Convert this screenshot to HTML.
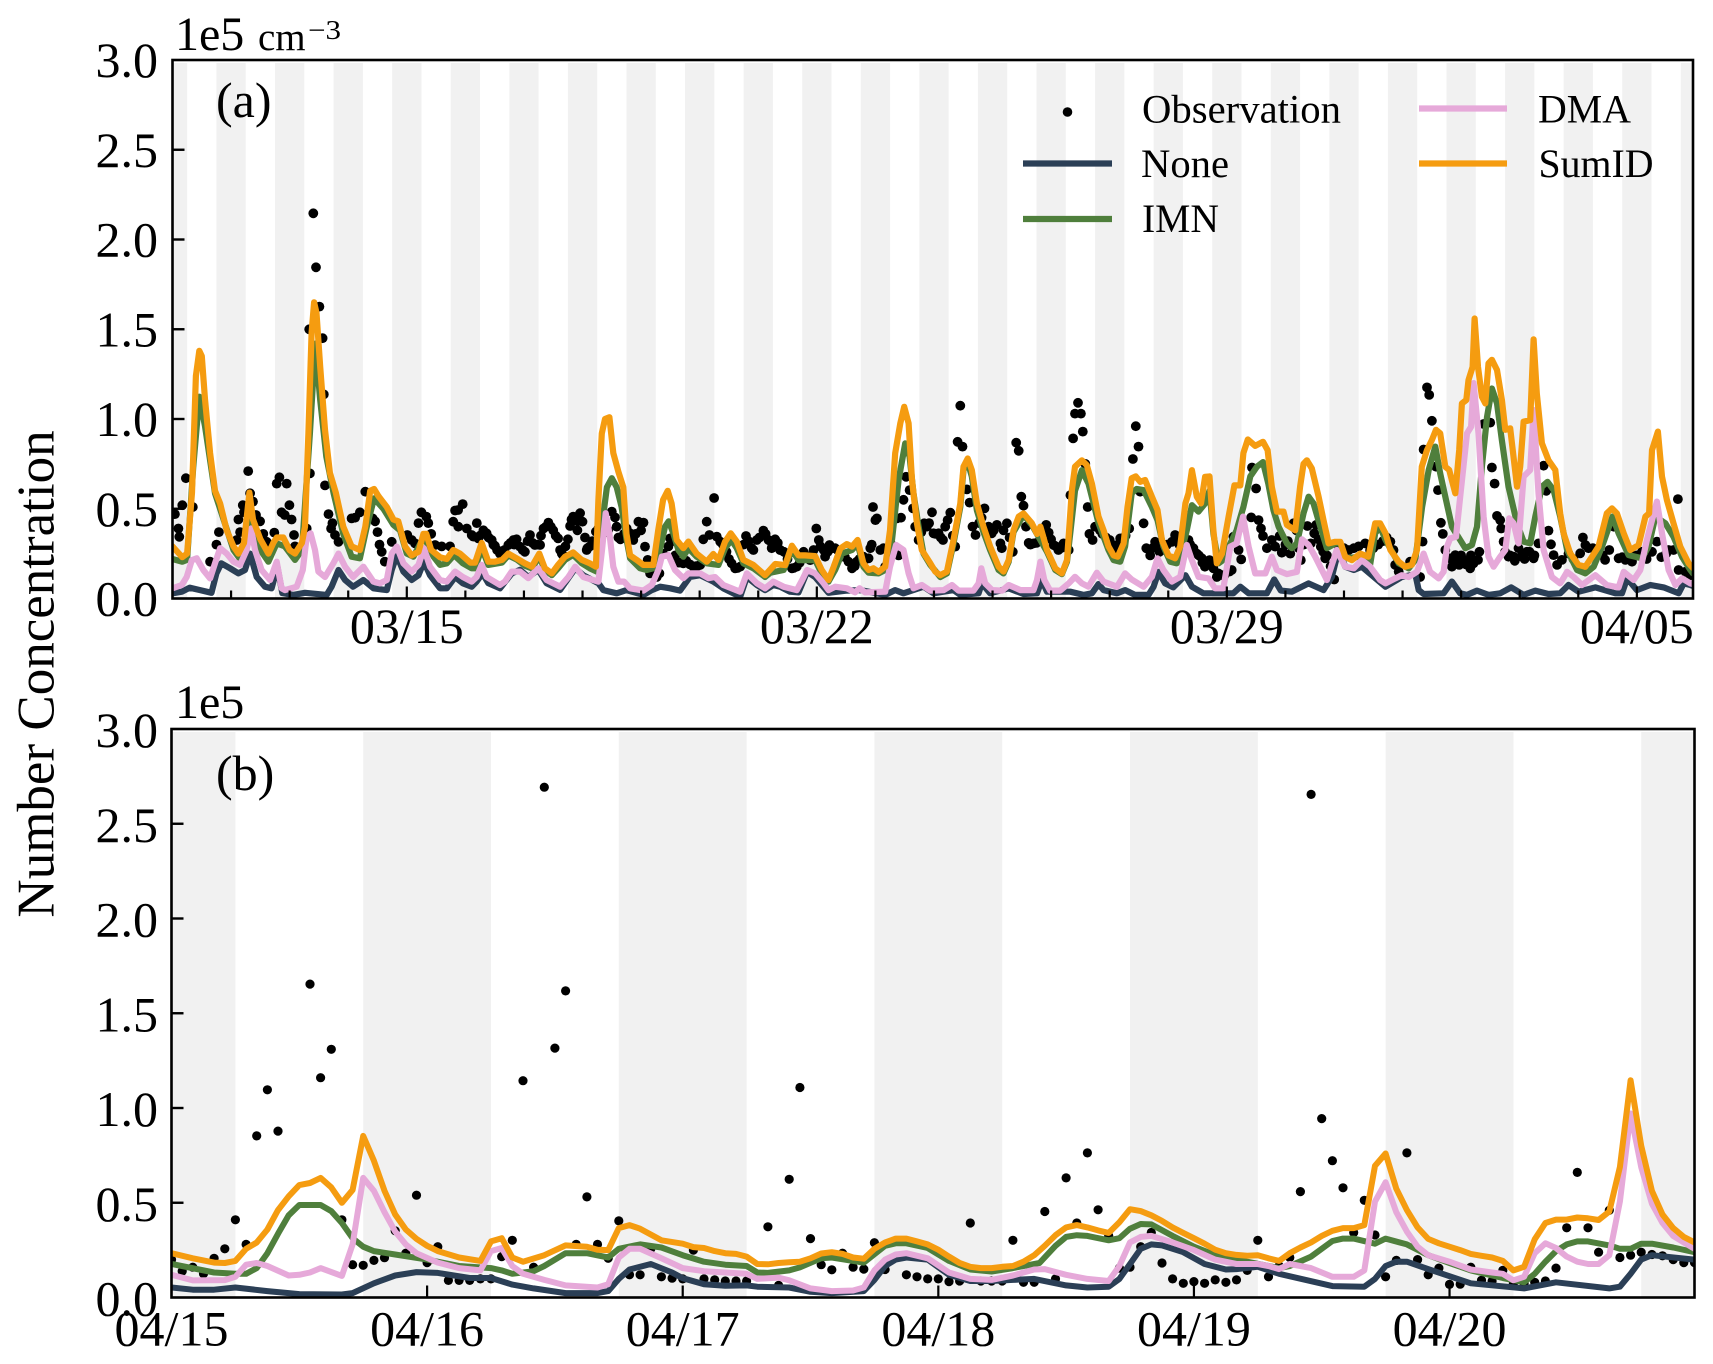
<!DOCTYPE html>
<html>
<head>
<meta charset="utf-8">
<title>Number Concentration</title>
<style>
html,body{margin:0;padding:0;background:#fff;}
svg{display:block;}
text{font-family:"Liberation Serif","Times New Roman",serif;fill:#000;}
</style>
</head>
<body>
<svg id="chart" xmlns="http://www.w3.org/2000/svg" width="1713" height="1364" viewBox="0 0 1713 1364">
<defs>
<clipPath id="clip-a"><rect x="172.5" y="60" width="1520.5" height="538.5"/></clipPath>
<clipPath id="clip-b"><rect x="171.5" y="729" width="1523" height="568.5"/></clipPath>
</defs>
<g id="panel-a"></g>
<g id="panel-b"></g>
<text transform="translate(53.5,674) rotate(-90)" text-anchor="middle" font-size="53">Number Concentration</text>
<text x="216" y="117" font-size="50">(a)</text>
<text x="216" y="790" font-size="50">(b)</text>
<text x="175" y="50" font-size="48">1e5</text>
<text x="258" y="50" font-size="39">cm</text>
<text x="308" y="39" font-size="27" textLength="33" lengthAdjust="spacingAndGlyphs">−3</text>
<text x="175" y="718" font-size="48">1e5</text>
<g>
<circle cx="1067.5" cy="112" r="4.8" fill="#000"/>
<text x="1142" y="122.5" font-size="40" textLength="199" lengthAdjust="spacingAndGlyphs">Observation</text>
<line x1="1023" x2="1112" y1="163.5" y2="163.5" stroke="#2b3f56" stroke-width="6.2"/>
<text x="1141" y="177" font-size="40" textLength="88" lengthAdjust="spacingAndGlyphs">None</text>
<line x1="1023" x2="1112" y1="219" y2="219" stroke="#4f7f3c" stroke-width="6.2"/>
<text x="1142" y="232" font-size="40" textLength="77" lengthAdjust="spacingAndGlyphs">IMN</text>
<line x1="1419" x2="1507" y1="108.5" y2="108.5" stroke="#e6a9d9" stroke-width="6.2"/>
<text x="1538" y="122.5" font-size="40" textLength="93" lengthAdjust="spacingAndGlyphs">DMA</text>
<line x1="1419" x2="1507" y1="163.5" y2="163.5" stroke="#f59c10" stroke-width="6.2"/>
<text x="1538.5" y="177" font-size="40" textLength="115" lengthAdjust="spacingAndGlyphs">SumID</text>
</g>
</svg>
<script>
// Values in units of 10^3 cm-3; hours since the panel's first timestamp.
// ---- Panel (a): 03/11 00:00 onward ----
const aSumHours=[0,4,6,8,9.6,11,12,13.3,15.4,17.4,19.5,22.2,25,27,29.3,31.5,33,36,39.3,41.3,42.7,45.4,48,50.2,53,54.3,55.7,57,58,59,60.5,62.5,64.5,66.9,70,73.4,76.8,79,81,82.6,84.4,87.8,90.5,92.5,95.3,98,100.8,102.8,104,106,109.6,112.4,115,117.8,122,124,126.7,129.4,132,135,137.6,141,144.4,147.2,150.3,152.6,155.4,158,160.8,164.2,167.7,171,173.5,174.5,175.9,177.2,179,180.6,182.7,184.7,186,187.5,190.2,192.9,197,199,201,202.9,204.5,206.6,209.3,211.4,214.8,218.9,221.6,223.7,226.4,228.7,231.2,233.9,238,242.8,247,251,253.8,256.5,259.2,263.3,266,268.8,270.9,273.6,276.3,278.4,280.7,283.1,285.2,287.2,289.3,292,294,296.1,298.2,299.8,301.6,303,305,307,310.5,312.5,314.6,317.3,320,322.8,324.1,325.8,327.5,329.6,332.3,335,338.5,340.5,342.6,344.6,346.7,348.7,352.1,354.2,355.6,358.3,361.7,364.4,366.5,368.5,369.8,372.6,374.6,376.7,379.4,381.5,383.5,385.6,387.3,389.7,391.3,393,394.7,396.5,398.5,401.3,403.6,405.4,408.1,410.8,412.9,415,416.3,417.7,419.7,421.4,423.1,424.9,426.5,427.9,430,432.7,435.1,437.5,438.8,440.6,443.6,446.8,448.7,450.4,452.5,455.2,456.6,460,462,463.4,464.8,466.8,469.6,471.6,473.7,476.4,478.5,480.5,483.2,486.7,490,492.8,494.8,497,499,502.4,505,507.8,509.9,511.9,514,516,517.7,519.4,521.5,523.1,525.6,527.2,528.3,530.1,531,532.7,533.5,534.9,536.5,537.9,539.2,540.6,542.7,544.7,546.1,548.1,550.9,552.2,553.6,556.3,557.7,559,561.1,563.8,566.6,568.6,570,572.7,576.1,578.9,581.6,584.3,587.7,589.8,591.8,594.6,597.3,600.7,603.5,605,606.2,608.6,610.3,612.3,615,617.8,621.2,623];
const aSumVals=[29,23,25,59,124,138,135,111,81,60,53,38,29,25,31,59,44,33,25,31,34,34,27,25,31,40,92,148,165,159,129,94,70,59,40,29,27,40,60,61,57,51,44,43,29,24,26,36,36,27,23,22,27,25,20,20,31,20.5,20.5,21.5,25,22.4,19.6,17.7,25,16.8,14,18.7,23.3,25.7,21.5,19.6,17.7,55,92,100,101,81,70.6,62,36,24,21.5,18.7,18.7,38,55,60,53,32.6,28,31.7,25,20.5,24.8,21.5,31.7,36.3,31.7,21.5,18.7,13,19.2,18.6,29.4,24,24,23.6,15.9,10.3,17.7,27.9,30.3,28.9,32.6,19.6,15.9,16.8,14.9,17.7,38,81,97.6,106.8,97.6,66,42,27,19.6,15,13,15,32.6,53,73.4,78,71.6,53,40,29,17.7,15,21.4,38,45.6,47.4,42,36,40,27,16.8,14,21.4,60.4,73.4,77,74.3,64,45.6,38,29,24,23.3,30.7,51,67,68,65,66,56.7,49.3,32.6,24,22.4,29,53,58.6,71.5,56.7,53,67.8,68,38,19.6,25,45.6,63,63,81,88.6,85,87.3,82.7,62.3,48.4,48.4,41,38,62.3,75,77,72.5,56.7,43.7,30.7,31.6,31.6,23.3,21.4,25,23.3,41.9,41.9,36.3,27,20.5,17.7,18.7,27,73.4,82.7,88.3,94,92,73.4,71.6,58.6,82.7,108.7,110.6,121.7,129,156,129,112.4,108.7,131,133,127.3,110.6,94,94.8,62.3,73.4,98.5,99.4,144.4,114.3,86.5,77,71.6,47.4,36.3,25.2,18.7,17.7,23.3,28.9,47.4,50.2,47.4,36.3,27,29.8,45.6,47.4,82.7,93,67.9,54.9,41.9,28.9,19.6,17];
const aImnHours=[0,4,6,8.5,11,13.3,17.4,21,25,27.7,29.7,31.5,33,36,39.3,42.7,46,50.2,53,56.3,58.5,60.5,63,66,70,73.4,76.8,79.6,82.6,86.4,90.5,93.2,96,98.7,103,107,109.6,112.4,115.4,119,122.6,124,126.7,129.4,135,137.6,141,144.4,147.2,150.3,152.6,155.4,158,160.8,164.2,167.7,171,173.8,175.9,178,180,182,184,186,187.5,191.6,194.3,197,199.1,201.8,203.3,205.2,207.3,209.3,211.4,214.8,218.9,223.7,226.4,229,231.2,233.9,238,242.8,245,250.4,253.8,256.5,263.3,266,268.8,271.5,274.3,278.4,280.7,283.1,285.2,289.3,292,294.8,297.5,300.2,302,303.6,305.7,307.7,310.5,314.6,317.3,320,322.8,324.1,325.8,327.5,329.6,332.3,335,338.5,340.5,342.6,344.6,348.7,352.1,358.3,361.7,364.4,366.5,368,369.8,372.6,375.3,379.4,383.5,385.6,388.3,390.3,393,395,397.9,401.3,403.6,406,408.8,411.5,413.6,415.6,417.7,420.4,423.1,424.9,426.5,428.6,430,433.4,436,438.8,441.6,444.3,446.8,449,451.1,453.2,456.6,458.6,460.7,463.4,465.5,467.5,470.3,473,476.4,478.5,480.5,486.7,490.7,492.8,494.8,497,502.4,506.5,509.2,512,514.7,517.4,519.4,521.5,524.2,527.6,529.7,532.4,534.5,536.5,538.6,540.6,542.7,544.7,547.4,550.9,553.6,556.3,558.4,561.1,563.4,565.9,568.6,571.4,575.5,578.9,582.3,585.7,590,592.5,596.6,602.1,604.8,607.6,611.7,615,618.5,621.9,623];
const aImnVals=[22,20.5,21.5,73,112.4,96,58.6,43.7,27,22,27,55,42,27,20.5,30.7,29,21.5,27,92,142,110.6,79,58.6,36,23.3,22.4,40,55.8,50,41,38,25,23.3,34.4,23.3,18.7,19.6,24.2,19.6,16.8,16.8,28,18.7,20,24,21.8,18.3,16.8,23.3,15.9,13,16.8,21.5,24.3,19.6,16.8,15,40,62,67,62,51,33,22.4,16.8,15.9,16.8,23.3,40,43,36.3,27,23.3,28,23.3,19.6,18.7,28,32.6,28,19.6,16.8,12,14.4,15.9,27,21.4,21.4,14,9.4,15.9,25,27,30.7,17.7,14.4,14,15.9,32.6,66,86.4,79,58.6,40,25,18.7,12,14,30.7,51,71.6,76,68,49,37,27,15.9,14,20.5,37,46.5,41,26,15.9,13.6,20.5,38,60,71.5,64,42,27,21.4,20.5,29,58.6,61,60.4,51,43.7,29,20.5,19.6,27,38,52,48.4,53,60,36,19.6,21,30.7,38,51,68,73.4,76,64,49,40,30.7,28,30.7,47.4,56.7,53,40,28,30.7,30.7,22.4,23.3,18.7,36.3,40,32.6,19.6,16.8,21.5,51,71.6,84.6,69.7,56.7,40,32.6,28,29.8,40,73.4,101,117,108.7,88,62.3,41.9,31.7,30.7,45.6,62.3,65,60.4,45.6,27,15.9,14,17.7,28.9,45.6,36.3,24.2,22.4,29,45.6,41.9,34.4,23.3,15.9,14];
const aDmaHours=[0,3.8,5.8,7.9,9.9,12.6,15.4,17.4,19.5,22.2,25,27.7,30.4,32.2,33.8,36.5,40,42.7,44.7,46,50.9,53.4,55,56.6,58.4,59.8,62.5,65.9,68,70.7,74,78.2,82.3,85,87.8,89.8,91.9,94.6,98,100.8,103,105.5,109.6,112.4,115.8,119,122.6,124.6,126.7,128.7,134.2,136.2,139,142.4,145.8,149.9,153.3,158.8,162.2,165,168.3,174.5,176,177.5,179,180.6,182.7,185,187.5,192.9,196.4,199.1,200.5,203.2,205.9,209.3,211.4,216.2,219.6,222.3,225.7,232.6,235.3,239.4,242.8,246.2,250.4,255.8,258,260,263.3,266.8,268.8,271.5,276.3,279.7,281.5,283.8,292,294,296.5,299.5,301.6,303.6,307,310.5,316,319.4,322.1,328.2,330.3,331.4,333,335.8,339.9,342.6,347.4,352.8,354.2,355.6,357.2,359.6,363.7,367.2,369.8,372.6,375.3,378.7,381.5,387,390.3,393,397.9,401.3,403.6,406,409.5,412.9,415.6,417.7,420.4,424.5,427.2,430.6,433.4,436,438.6,440.9,443.6,447.8,450.4,452.5,456.6,460.7,462.8,465.5,468.2,473,477,480.5,484,487.3,490.7,494.8,497,501,503.7,506.5,509.9,512.6,515.3,518.8,520.8,522.2,523.5,525.9,527.6,530.4,532.1,533.1,535.1,537.2,539.2,541.3,544,546.1,547.7,549.5,551.5,553.6,556.3,557.7,559.7,561.8,565.2,568.6,571.4,574.1,577.5,583,587.7,592.5,594.6,598.7,601.4,604.1,605.5,608.2,610.3,613,615.8,618.5,621.9,623];
const aDmaVals=[5.7,7.5,12,21.4,22.4,15.9,11.2,19.6,28,25,20.5,18.7,27,39,27,15.9,10.3,20.5,5.7,4.7,6.6,15.9,34.4,36.3,27,15,12,19.6,25,17.7,12,17.7,9.4,8.4,10.3,25,28.9,19.6,15,18.7,28,17.7,10.3,9.4,15,12,9.4,12,18.7,12,7.5,9.4,15,15,11.3,16.8,10.3,6.6,12,17.7,12,9.4,27,47.5,36.3,17.7,9.4,9.4,5.7,4.4,7.5,15.9,23.3,24.2,15.9,11.3,14,14,11.3,12,7.5,3.8,14,8.5,5.7,9.4,6.6,4.7,10.3,15.9,14,8.4,4.7,6.6,5.7,3.4,5.7,3.4,3.8,17.7,29.8,27,14,5.7,7.5,4.4,4.7,7.5,4.4,4.4,8.4,16.8,8.4,4.7,4.4,7.5,4.7,4.7,10.3,20.5,10.3,4.4,4.4,8.4,12.1,8.4,6.6,14.4,9.4,6.6,14,10.6,6.6,12.1,22.4,15.9,9.4,12.1,29.8,21.4,12.1,11.2,5.7,5.7,28.9,30.7,45.6,28.9,14,14,23.3,15.9,13.6,14.9,33,29.8,23.3,10.3,27,17.7,16.8,21.4,17.7,10.3,8.4,11.2,13,12,14.9,25,14.9,11.2,14.9,28.9,33.5,34.4,56.7,92,95.7,120,92,45.6,23.3,17.7,23.3,27,44.7,41.9,30.7,67.9,71.6,105,58.6,27,12,8.4,14.9,12,7.5,13,7.5,6.2,14.9,10.3,15.9,32.6,40,54,36.3,15.9,7.5,11.2,8.4,8];
const aNoneHours=[0,3.8,7,11.3,16,18,20,23.6,27,29.7,31.8,34.5,37.9,40.6,43,45,49.5,54.3,63.2,65.2,68,70.7,74,78.2,82.3,87.8,89.8,91.9,94.6,98,100.8,103,105.5,109.6,112.4,115.8,119,122.6,124.6,127,129.4,134.2,139,142.4,145.8,149.9,153.3,158.8,165,168.3,174.5,176.5,182,186,193,196.4,199.8,203.9,208,212,216.2,221.6,225.7,232.6,235.3,239.4,242.8,246.2,249,253,256.5,260,263.3,268.8,276.3,281.8,292,296.1,299.5,307.7,311.8,320,322.8,330.3,331.6,335,342.6,348.7,354.2,356.2,358.3,367.8,373.3,376.7,379.4,381.5,387,390.3,394.4,399.9,402,404,406.7,410,415,417.7,422.4,431.3,434.7,437.5,440.9,448.4,451.4,454.1,458.6,465.5,471.6,475,477.8,480.5,484,487.3,497,503.7,509.2,510.6,512.6,520.8,524.2,527.6,530.4,534.5,539.2,544,548.5,553.6,558.4,563.8,568.6,572,576.1,583,591.2,593.9,596,600,605.5,611,617.1,619.2,621.9,623];
const aNoneVals=[2.9,3.8,6,4.7,3.2,14,19.6,16.8,14,15.9,25,12,6.6,5.7,17.7,3,2,3.2,2,6.6,15.9,10.3,6.6,10.3,5.7,4.7,15.9,24.2,15,10.3,13,20.5,13,5.7,5.7,12,8.4,6.6,9.4,14,8.5,5.7,14,16,12,16,8.5,4.8,16.8,13,8.5,4.7,2.9,4.7,2,4.7,6.6,5.7,4.4,12,13,9.4,5.7,1,12,7.5,4.7,7.5,6.6,3.8,3.4,14.9,12,3.2,4.4,4.7,2,4.7,2.9,6.6,2.9,4.7,2,2.9,8.4,2.9,5.7,2.5,2.9,10.3,3.8,3.8,2,2.9,8,4.7,2.9,4.7,2,2,6.6,14.9,8.4,6.2,13,6.6,2.9,2.9,2.9,6.6,2.9,2.9,10.6,4.4,3.8,8.4,4.7,12,27,17.7,15.9,17.7,6.6,12,13.6,4.7,2.5,2.9,9.4,2.9,2,4.4,2,2.9,6.2,2,4.4,2.5,2.9,7.5,3.8,6.2,2.9,2.9,11.2,4.7,7.5,6.2,2.9,8.4,7.5,7];
const aObsHours=[1,2.4,2.8,4,5.5,8.3,15.4,18,19,27,27.7,26.3,28.8,29.3,31,31.8,33,34.2,35.9,37.2,38.6,41.7,42.7,43.8,46.8,44.7,46,47.9,48.8,49.8,50.2,55,56.3,56,57.7,58.8,60.2,61.5,62,62.5,63.9,65.5,65,66.6,68,73.4,74.8,76.8,79,82,83,84,84.8,85.7,87,89.8,96.2,98,99.4,100.8,102,104,104.8,106,107.6,110.3,113.7,115,115.8,117,118.9,117.1,120.6,122.6,124.7,125.3,123.3,127.4,128.7,130.8,132.1,134.2,137.6,139.7,141,142.4,144.4,146.5,148.5,150.6,152,154,156,158,158.8,160.1,162,162.9,164.2,167,165.9,168,169,169.7,171,173.5,177.9,180,181.3,182,182.7,186.1,187.5,188.8,190.9,193,193.6,194.7,195.7,198.4,203.2,203.9,207.3,209.3,213.4,216.2,217.5,218.9,221.9,220,223,224.4,229.1,230.5,232.6,235,237.3,239.4,242.1,244.2,246.9,245.5,249,245.6,247,249,253.8,255.8,258.6,261.3,262.7,263.8,264.8,266.8,267.4,269.2,271.5,277,278.4,280.4,283.1,285.2,285.9,287,288,288.6,290,291.3,292,296.8,297.5,300.6,302,303.4,304.3,305.7,308,309.1,311.2,311.8,313.9,315.7,316.6,317.6,318.7,320.7,321.7,322.8,323.7,325.5,326.6,327.8,329,332.7,334.4,335.7,337.8,339.2,339.8,341.9,344.3,345.7,346.7,347.8,348.7,350.8,352.8,358,359,361,363,365.1,367.2,367.9,369,369.8,371,372.2,373,374,375,375.7,377,378,384,386.9,388.3,389.7,392,393.5,394.7,395.8,396.5,397.9,399,400.6,402.6,404.4,406.7,409.5,410.8,413.6,416.3,418.3,419.7,421.8,423,424.9,426.5,427.9,434,434.7,436.8,437.9,442.3,444,442,445,446,446.8,448.4,450.4,451.8,453.6,454.5,458,459.3,462.3,465,466.4,467.8,468.6,470.5,472.3,476,488.7,490.7,499,500.3,501,502.4,507.1,511.2,512.2,512.6,514,514.9,516,517.7,518.5,519.7,520.5,521.5,524.2,523.5,525.6,527.2,529.7,531.7,533.1,534.9,537.2,539.9,540.6,541.7,542.7,544,544.4,545.4,547.4,549.5,551.5,552.9,555,557.7,559.7,561.8,562.9,563.8,564.8,565.9,567.3,569.3,576.8,577.9,578.9,580.2,584.3,587,588.7,590.5,592.5,595.3,598,602.1,606.2,608.2,613,615,616.8,617.1,619.9,621.9,526,528,530,532,535.5,546,548,550,553,554,556,558,572,574,582,586,594,597,600,604,610,612];
const aObsVals=[47,39,34.4,52,67,51,20.5,30,37,44,37,32.6,52,48,71,58.6,54,46.5,43,36,31.6,36.7,64,67.5,64,48,46.5,52,44,35.4,29,39,69.7,150,214.6,184.5,162.6,145,113.7,63,47,42,39,35.4,31.6,44.6,45,48,59.5,44.6,43,37,30,26,20.5,31.6,35.4,32.6,30.7,42,48,45.6,42,36,29.8,29,29,42.8,49,49.3,52.6,40,39,35.4,42,33.5,34.5,38,36.3,32.6,29.3,25,29.8,32.6,33,28.9,26,35.4,29.8,29.8,39,42.3,38,33.5,27,24,33,40.4,45.6,47.5,38,42.8,34,27,29,37.2,37,48.4,45.2,40,34,39,36.3,32.6,42.8,42.3,28.9,21.5,14,12,29,33.5,20,19.6,17.7,18.7,33,42.8,56,35.4,34.5,31.7,19.6,16.8,17.7,34.8,28,32.6,37.8,32.6,33,28,27,30.7,32.6,27,16.8,17.7,26,21.4,27,39,32.6,27,23.3,29.8,28,20.5,16.8,20.5,23.3,22.4,28,51,43.7,44.6,27,28,17.7,44.6,24,67.8,60.4,50.2,40,32.6,41.9,40,48,36.3,36.3,32.6,40,43.7,47.8,28.9,87.3,107.4,84.6,60.8,53.4,40,35.4,50.2,40,36.3,41,30.7,28,41.9,26,86.8,82.3,56.7,51.7,31,30.7,41,36.7,29.8,27,30.7,27,57.6,89.2,103,109,103,93,75,51,36,32.6,40,32.6,27,33.5,31.6,39,77.7,96,84.6,59.5,41.9,28,24,31.6,26,28.9,31.6,35.4,28,32.6,28,25,22.4,17.7,21.4,16.8,12,15.9,34.4,27,21.8,73,61.3,45.2,43.7,39,34.8,28,32.6,28.9,34.8,25.5,25,41.9,21.4,40.4,30.7,36.3,41,28.9,22.4,10.6,30.7,27,31.7,27,18.7,15,20.5,12,31.7,83,117.6,113.4,99,73.4,60.4,42.2,36,27,17.7,22.4,24.2,18.7,21,16.8,19.6,21.5,97.2,98,73,64,46,43.7,39,31.7,23.3,23.3,28,23.3,26,22.4,30.7,74,60,37.8,30.2,24.2,18.7,21.5,25.2,34,29.8,28,26,21.5,27,40,22.4,21.5,20.5,26,26,31.7,27,27,55.4,15.9,14.9,13,20,24,19,24,26,26,24,21,25,22,26,24,25,22,28,24,23,26,24,22,23,25];
const aObsExtraHours=[126,129.5,131.5,133,136,138.5,140,143.5,145.5,147.5,149.5,151,153,155,157,159.5,161,163.5,166,170,172,174.5,176,178.5,183.5,185,189.8,192,196,199.5,201,205,206,208,210.5,212,214.5,215,225.5,227,228,231.5,234,236,238,240.5,243,248,250.5,252,254.5,257,259.5,260.5,265.5,268.5,270.5,272.5,274,275.5,279.5,281.5,284,286.5,293,294.5,298.5,299.5,306.8,310,312.7,314.8,319.7,330.5,331.5,336.5,340.5,343,349.7,351.5,354,356,357,360,362,364,366,380,381,382.5,385,387.5,390.5,401.5,403.5,405.5,407.5,411.5,412.5,415,417,420.5,422,425.5,428.5,430,431,433,455,456,457,460.5,461.5,463.5,469.5,471.5,473,474.5,478,480,482,484,486,492,494,496,497.5];
const aObsExtraVals=[35,34,30,27,27,31,30,27,32,31,30,35,40,40,35,25,29,44,43,28,32,39,40,38,33,36,36,38,17,14,25,32,24,20,21,19,18,18,30,26,22,17,30,32,27,34,36,31,26,22,17,20,24,23,29,26,28,27,25,23,18,22,22,30,20,30,45,55,37,42,36,34,35,42,45,38,38,34,40,30,31,35,38,33,29,28,30,38,36,34,30,30,35,28,28,27,30,32,30,30,30,24,20,19,14,13,13,15,26,30,32,38,28,30,33,26,24,18,28,28,27,28,29,28,30,32,34];
const yTickValues=[0,0.5,1,1.5,2,2.5,3];
const yTickLabels=["0.0","0.5","1.0","1.5","2.0","2.5","3.0"];
const aLabelHours=[96,264,432,600];
const aLabels=["03/15","03/22","03/29","04/05"];
// ---- Panel (b): 04/15 00:00 onward ----
const bSumHours=[0,2,4,5,6,7,8,9,10,11,12,13,14,15,16,17,18,19,20,21,22,23,24,25,27,29,30,31,32,33,35,37,39,40,41,42,43,44,46,48,49,50,51,52,53,54,55,56,57,58,59,60,61,62,63,64,65,66,67,68,69,70,71,72,73,74,75,76,77,78,79,80,81,82,83,84,85,86,87,88,89,90,91,92,93,94,95,96,97,98,99,100,101,102,103,104,105,106,107,108,109,110,111,112,113,114,115,116,117,118,119,120,121,122,123,124,125,126,127,128,129,130,131,132,133,134,135,136,137,138,139,140,141,142,143];
const bSumVals=[23.4,20.7,18.4,18.2,19.3,25.7,29,35.9,46.1,53.4,59.3,60.4,63.1,58.1,50,56.8,85.3,72.2,56.3,43.8,35.9,30.9,27.3,24.5,21.1,19.3,29.6,31.3,21.1,18.9,22.3,27.5,26.8,25.2,25,36.6,38.2,36.3,30.2,28.4,26.6,26.1,24.5,23.4,23,21.6,17.7,17.5,18.2,18.6,18.9,20.7,23.2,23.9,23,21.1,20.5,25.7,29.1,31.1,31.1,29.6,28,25.2,21.6,18.2,16.2,15.5,15.5,16.2,16.6,18.9,22.3,27.3,32.9,37,38.2,37,35.4,34.1,39.7,46.6,45.6,43.4,40.4,37,34.1,31.3,28.4,25.2,23.4,22.5,22,22.3,20.7,19.3,23.4,26.4,29.1,32.5,35.2,36.6,36.6,38.2,69.5,76,57.4,46.1,37,30.9,28.6,26.8,25,23,22,21.1,19.3,14.3,16.2,30.7,39.3,41.1,41.1,42.2,41.8,40.9,45.4,68.8,114.6,80.1,56.3,43.8,36.6,32,29.1];
const bImnHours=[0,4,6,7,8,9,10,11,12,14,15,16,17,18,19,21,24,27,30,31,32,34,35,37,39,41,42,44,46,48,50,52,54,55,56,58,59,61,62,65,67,68,69,71,73,75,77,79,81.5,83,84,85,86,88,89,90,91,92,94,96,98,100,101,103,104,105,107,109,110,111,113,114,116,118,120,122,125,127,128,129,130,131,132,133,135,136,137,138,139,141,143];
const bImnVals=[17.7,13.2,12.5,12.5,15.5,23.4,33.6,43.4,48.8,48.8,45.6,39.3,31.3,26.8,24.5,22.7,20,16.6,15.5,14.3,12.5,13.9,16.6,23.4,23.4,21.1,25.7,28,26.4,22.3,18.9,17.3,16.6,13.2,13,14.3,15.9,20.7,21.1,18.4,27.3,28.6,28.6,26.1,19.3,14.8,13.7,15.5,18.2,27.3,32,32.9,32.5,30.2,31.3,36.3,38.8,38.6,32.5,26.8,22.3,20,18.9,16.6,15.5,16.6,21.6,29.8,31.1,31.1,28.4,31.1,28,22.3,18.2,14.3,10.3,8,12.5,18.9,24.5,28,29.6,29.6,27.5,25.7,25.7,28.4,28.4,26.4,23.9];
const bDmaHours=[0,2,5,6,7,8,9,11,12,13,14,16,17,18,19,20,21,22,23,25,27,29,30,31,32,33,35,37,40,41,42,43,44,46,48,50,54,55,57,58,60,62,64,65,66,67,68,69,71,73,75,77,79,81,82,84,86,88,89,90,91,92,94,96,98,100,101,102,103,104,105,107,109,111,112,113,114,115,116,117,118,120,122,124,125,126,127,128,129,130,131,132,133,134,135,136,137,138,139,140,141,142,143];
const bDmaVals=[12,9,9.2,10.9,17.3,18.2,16.6,11.6,12,13.2,15.5,11.4,28,63.1,56.3,45,34.8,28,23.4,18.4,15.5,14.3,24.5,26.1,16.6,12.5,9.3,6.4,5.3,7,21.1,25.7,25.7,20.7,15.5,13.9,12.5,9.8,10.5,9.1,4.8,3.4,3.7,5.3,14.3,20,22.7,23.4,20.7,13.2,9.8,9.3,11.6,14.8,15,12,9.8,8.7,16.6,29.1,32,32.5,29.1,25,20,17.7,17.7,17.7,16.6,15,17.7,15.5,10.9,10.9,14.3,50.6,60.8,45,34.8,26.8,22.3,18.9,14.8,13.2,12.5,9.1,10.9,23.4,28.6,26.1,21.6,18.9,17.7,17.7,22.3,50.6,97.1,68.8,49.5,39.3,32.5,29.1,25.7];
const bNoneHours=[0,2,4,6,9,12,16,17,19,21,23,25,28,30,32,34,37,40,41,42,43,45,47,48,50,52,54,55,58,60,62,65,66,67,68,69,71,73,75,77,79,81,84,86,88,89,90,91,92,93,95,97,99,100,102,104,109,112,113,114,115,116,118,122,127,130,135,136,137,138,139,143];
const bNoneVals=[5.3,4.1,4.1,5.3,3.4,1.8,1.6,2.3,7.5,11.6,13.4,13,10.3,10.3,6.8,4.8,2.3,2.3,3.4,9.8,14.8,17.7,13.2,10.2,7,6.2,6.4,5.7,5.3,3,2.3,3.4,9.3,16.6,20,21.1,20,12,8.7,8.7,9.3,9.8,6.4,5.3,5.7,9.8,17.7,25.7,28,27.5,23.9,17.7,14.8,15,16.2,12.5,6,5.7,9.8,16.6,18.9,18.9,15,7.5,4.8,8,4.8,5.7,12.5,20,22.3,20];
const bObsHours=[0,1,2,3,4,5,6,7,8,9,10,13,14,15,16,17,18,19,20,21,22,23,24,25,26,27,28,29,30,31,32,33,34,35,36,37,38,39,40,41,42,43,44,45,46,47,48,49,50,51,52,53,54,56,57,58,59,60,61,62,63,64,65,66,67,69,70,71,72,73,74,75,76,77,78,79,80,81,82,83,84,85,86,87,88,89,90,91,92,93,94,95,96,97,98,99,100,101,102,103,104,105,106,107,108,109,110,111,112,113,114,115,116,117,118,119,120,121,122,123,124,125,126,127,128,129,130,131,132,133,134,135,136,137,138,139,140,141,142,143];
const bObsVals=[20,13.9,16,12.5,20.7,25.7,41,28,85.3,109.6,87.8,165.4,116,131,41,17.3,17,19.6,21,35.2,23.4,54,18.4,26.8,9,9,9,9.8,9.8,21.6,30.2,114.4,16,269.3,131.6,161.8,28,53.1,28,20.7,40.4,12,12,25.7,10.9,10.2,9.8,25,9.8,9.3,8.7,8.7,8.7,37.3,6.4,62.4,110.8,31.1,17.3,14.6,23.4,16,15,28.9,14.8,12,10.9,9.8,9.8,8.4,8.7,39.3,8.7,8.7,8.7,30.2,8,8,45.4,9.8,63.1,39.3,76.3,46.3,32.5,15.5,16,26.8,34.3,18.2,9.8,7.5,8.4,7.5,9.3,8,9.3,14.3,30.2,10.9,16.6,21.1,55.9,265.5,94.4,72.2,57.9,34.3,51.3,33,10.9,19.6,76.3,20,12,15.5,6.9,7,16,9.1,8.7,14.3,7.5,7.5,8,8.7,15.5,36.8,66,36.8,23.9,46,21.1,22.3,23.9,22.7,22,20,18.4,18.4];
const bLabelHours=[0,24,48,72,96,120];
const bLabels=["04/15","04/16","04/17","04/18","04/19","04/20"];

const NS='http://www.w3.org/2000/svg';
function mk(tag,attrs,parent){
  const el=document.createElementNS(NS,tag);
  for(const k in attrs){el.setAttribute(k,attrs[k]);}
  parent.appendChild(el);
  return el;
}
const scaleA={x:h=>172.5+h*(1520.5/623),y:v=>598.5-v*(538.5/300)};
const scaleB={x:h=>171.5+h*(1523/143),y:v=>1297.5-v*(568.5/300)};

function linePath(hours,vals,s){
  let d='';
  for(let i=0;i<hours.length;i++){
    d+=(i?'L':'M')+s.x(hours[i]).toFixed(1)+' '+s.y(vals[i]).toFixed(1);
  }
  return d;
}
function drawPanel(cfg){
  const g=document.getElementById(cfg.id);
  const s=cfg.s;
  const xL=s.x(0),xR=s.x(cfg.span),yB=s.y(0),yT=s.y(300);
  const data=mk('g',{'clip-path':'url(#'+cfg.clip+')'},g);
  
  
  // night bands (18:00-06:00)
  for(let st=-6;st<cfg.span;st+=24){
    const a=Math.max(0,st),b=Math.min(cfg.span,st+12);
    const r=mk('rect',{x:s.x(a),y:yT+3,width:s.x(b)-s.x(a),height:yB-yT-3,fill:'#f1f1f1'},data);
    
    
  }
  // observations
  const og=mk('g',{fill:'#000'},data);
  
  
  cfg.obsH.forEach((h,i)=>{
    const c=mk('circle',{cx:s.x(h).toFixed(1),cy:s.y(cfg.obsV[i]).toFixed(1),r:cfg.r},og);
    
    
  });
  // model lines
  cfg.series.forEach(se=>{
    const p=mk('path',{d:linePath(se.h,se.v,s),fill:'none',stroke:se.c,'stroke-width':cfg.lw,'stroke-linejoin':'round','stroke-linecap':'round'},data);
    
    
  });
  // frame
  const fr=mk('rect',{x:xL,y:yT,width:xR-xL,height:yB-yT,fill:'none',stroke:'#000','stroke-width':2.6},g);
  
  
  // y ticks
  yTickValues.forEach((v,i)=>{
    const y=s.y(v*100);
    if(i>0&&i<yTickValues.length-1){
      const t=mk('line',{x1:xL,x2:xL+12,y1:y,y2:y,stroke:'#000','stroke-width':2.4},g);
      
      
    }
    const l=mk('text',{x:cfg.yLabelX,y:y+cfg.yOff,'text-anchor':'end','font-size':50},g);
    l.textContent=yTickLabels[i];
    
    
  });
  // x ticks: daily minor
  for(let h=24;h<cfg.span;h+=24){
    const major=cfg.labelH.indexOf(h)>=0;
    const t=mk('line',{x1:s.x(h),x2:s.x(h),y1:yB,y2:yB-(major?12:8),stroke:'#000','stroke-width':2.2},g);
    
    
  }
  cfg.labelH.forEach((h,i)=>{
    const l=mk('text',{x:s.x(h),y:cfg.xLabelY,'text-anchor':'middle','font-size':50},g);
    l.textContent=cfg.labels[i];
    
    
  });
}
drawPanel({id:'panel-a',s:scaleA,span:623,clip:'clip-a',r:4.9,lw:6.2,obsH:aObsHours.concat(aObsExtraHours),obsV:aObsVals.concat(aObsExtraVals),
  series:[{n:'none-line',h:aNoneHours,v:aNoneVals,c:'#2b3f56'},{n:'imn-line',h:aImnHours,v:aImnVals,c:'#4f7f3c'},{n:'dma-line',h:aDmaHours,v:aDmaVals,c:'#e6a9d9'},{n:'sumid-line',h:aSumHours,v:aSumVals,c:'#f59c10'}],
  yLabelX:158,yOff:17,xLabelY:643,labelH:aLabelHours,labels:aLabels});
drawPanel({id:'panel-b',s:scaleB,span:143,clip:'clip-b',r:4.6,lw:6,obsH:bObsHours,obsV:bObsVals,
  series:[{n:'none-line',h:bNoneHours,v:bNoneVals,c:'#2b3f56'},{n:'imn-line',h:bImnHours,v:bImnVals,c:'#4f7f3c'},{n:'dma-line',h:bDmaHours,v:bDmaVals,c:'#e6a9d9'},{n:'sumid-line',h:bSumHours,v:bSumVals,c:'#f59c10'}],
  yLabelX:158,yOff:18,xLabelY:1345.5,labelH:bLabelHours,labels:bLabels});
</script>
</body>
</html>
